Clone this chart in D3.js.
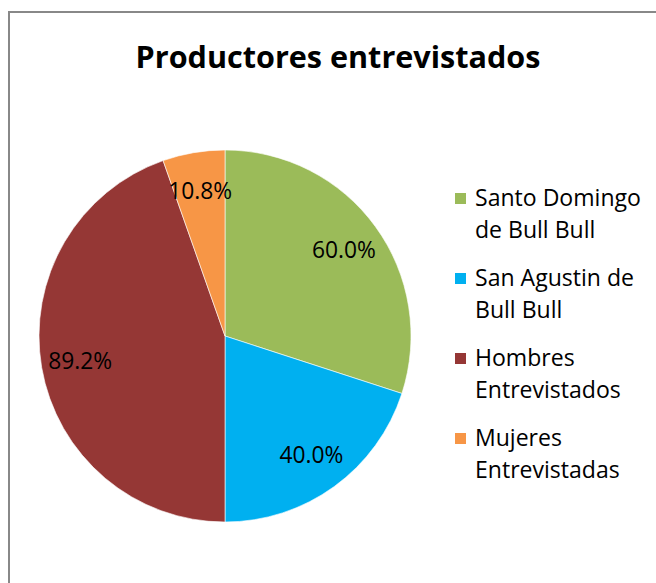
<!DOCTYPE html>
<html>
<head>
<meta charset="utf-8">
<script src="https://cdn.jsdelivr.net/npm/d3@7"></script>
<style>
  html, body { margin: 0; padding: 0; background: #fff; }
  svg { display: block; }
  text { font-family: "Open Sans", Lato, "Liberation Sans", sans-serif; fill: #000; }
</style>
</head>
<body>
<svg id="chart" width="656" height="583"></svg>
<script>
const title = "Productores entrevistados";
const categories = ["Santo Domingo de Bull Bull", "San Agustin de Bull Bull", "Hombres Entrevistados", "Mujeres Entrevistadas"];
const legendLines = [["Santo Domingo", "de Bull Bull"], ["San Agustin de", "Bull Bull"], ["Hombres", "Entrevistados"], ["Mujeres", "Entrevistadas"]];
const values = [60.0, 40.0, 89.2, 10.8];
const labels = ["60.0%", "40.0%", "89.2%", "10.8%"];
const colors = ["#9BBB59", "#00B0F0", "#953735", "#F79646"];

const svg = d3.select("#chart");
const W = 656, H = 583;

// fit a font size so that a sample text reaches a target width
function fitSize(sample, target, weight) {
  const t = svg.append("text").attr("font-size", 100).attr("font-weight", weight || "normal").text(sample);
  const w = t.node().getComputedTextLength();
  t.remove();
  return 100 * target / w;
}
const titleSize = fitSize(title, 405, "bold");
const legendSize = fitSize("Santo Domingo", 166);
const labelSize = fitSize("60.0%", 64);

// chart area border
svg.append("rect")
  .attr("x", 9).attr("y", 12)
  .attr("width", W + 10).attr("height", H + 10)
  .attr("fill", "#fff").attr("stroke", "#888").attr("stroke-width", 2);

// title
svg.append("text")
  .attr("x", 338).attr("y", 68)
  .attr("text-anchor", "middle")
  .attr("font-size", titleSize).attr("font-weight", "bold")
  .text(title);

const cx = 225, cy = 336, R = 186;
const data = categories.map((c, i) => ({ name: c, value: values[i], label: labels[i], color: colors[i] }));
const pie = d3.pie().sort(null).value(d => d.value);
const arcs = pie(data);
const arc = d3.arc().innerRadius(0).outerRadius(R);
const labelArc = d3.arc().innerRadius(R * 0.79).outerRadius(R * 0.79);

const g = svg.append("g").attr("transform", `translate(${cx},${cy})`);
g.selectAll("path.slice").data(arcs).join("path")
  .attr("class", "slice")
  .attr("d", arc)
  .attr("fill", d => d.data.color)
  .attr("stroke", "#fff").attr("stroke-width", 0.6);

g.selectAll("text.lbl").data(arcs).join("text")
  .attr("class", "lbl")
  .attr("transform", d => `translate(${labelArc.centroid(d)})`)
  .attr("text-anchor", "middle")
  .attr("dy", "0.36em")
  .attr("font-size", labelSize)
  .text(d => d.data.label);

// legend
const leg = svg.append("g").attr("transform", "translate(455,193)");
const item = leg.selectAll("g.item").data(data).join("g")
  .attr("class", "item")
  .attr("transform", (d, i) => `translate(0,${i * 80})`);
item.append("rect")
  .attr("x", 0).attr("y", 0).attr("width", 11).attr("height", 11)
  .attr("fill", d => d.color);
item.each(function(d, i) {
  const t = d3.select(this).append("text")
    .attr("x", 20).attr("y", 13)
    .attr("font-size", legendSize);
  legendLines[i].forEach((ln, j) => {
    t.append("tspan").attr("x", 20).attr("dy", j === 0 ? 0 : 32).text(ln);
  });
});
</script>
</body>
</html>
